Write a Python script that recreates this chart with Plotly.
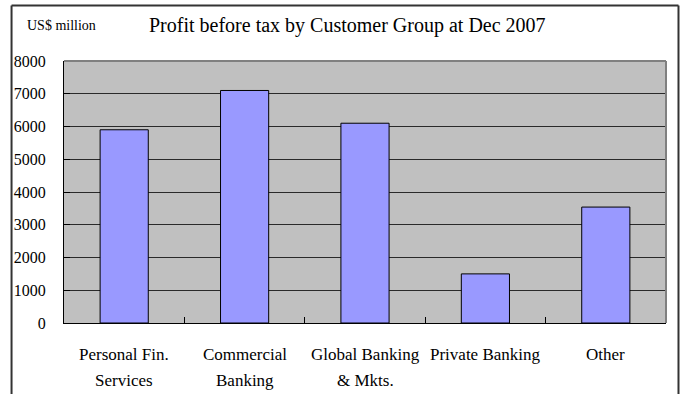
import plotly.graph_objects as go

# Profit before tax by customer group, Dec 2007 (US$ million)
categories = ["Personal Fin. Services", "Commercial Banking", "Global Banking & Mkts.",
              "Private Banking", "Other"]
label_line1 = ["Personal Fin.", "Commercial", "Global Banking", "Private Banking", "Other"]
label_line2 = ["Services", "Banking", "& Mkts.", "", ""]
profit = [5900, 7100, 6100, 1500, 3540]
y_ticks = [0, 1000, 2000, 3000, 4000, 5000, 6000, 7000, 8000]

FONT = "'Liberation Serif', 'Times New Roman', serif"

fig = go.Figure(go.Bar(
    x=categories, y=profit, width=0.4,
    marker=dict(color="#9999ff", line=dict(color="#000000", width=1)),
))

W, H = 683, 394
L, R, T, B = 64, 16.5, 61, 71
pw, ph = W - L - R, H - T - B


def px_x(p):
    return (p - L) / pw


def px_y(p):
    return (H - B - p) / ph


annotations = []
for cat, a, b in zip(categories, label_line1, label_line2):
    annotations.append(dict(x=cat, xref="x", y=px_y(354), yref="paper", text=a,
                            showarrow=False, xanchor="center", yanchor="middle",
                            font=dict(family=FONT, size=17, color="#000")))
    if b:
        annotations.append(dict(x=cat, xref="x", y=px_y(380), yref="paper", text=b,
                                showarrow=False, xanchor="center", yanchor="middle",
                                font=dict(family=FONT, size=17, color="#000")))

annotations.append(dict(x=px_x(147), xref="paper", y=px_y(25), yref="paper",
                        text="Profit before tax by Customer Group at Dec 2007",
                        showarrow=False, xanchor="left", yanchor="middle",
                        font=dict(family=FONT, size=20, color="#000")))
annotations.append(dict(x=px_x(25), xref="paper", y=px_y(25), yref="paper",
                        text="US$ million", showarrow=False, xanchor="left", yanchor="middle",
                        font=dict(family=FONT, size=14, color="#000")))

shapes = [
    # outer frame (open at the bottom)
    dict(type="line", xref="paper", yref="paper", x0=px_x(11.5), x1=px_x(11.5),
         y0=px_y(5.5), y1=px_y(400), line=dict(color="#333333", width=2)),
    dict(type="line", xref="paper", yref="paper", x0=px_x(679), x1=px_x(679),
         y0=px_y(5.5), y1=px_y(400), line=dict(color="#333333", width=2)),
    dict(type="line", xref="paper", yref="paper", x0=px_x(11.5), x1=px_x(679),
         y0=px_y(5.5), y1=px_y(5.5), line=dict(color="#333333", width=2)),
    # plot area top and right edges
    dict(type="line", xref="paper", yref="paper", x0=0, x1=1, y0=1, y1=1,
         line=dict(color="#808080", width=2)),
    dict(type="line", xref="paper", yref="paper", x0=1, x1=1, y0=0, y1=1,
         line=dict(color="#808080", width=2)),
]

fig.update_layout(
    width=W, height=H,
    margin=dict(l=L, r=R, t=T, b=B, pad=0),
    paper_bgcolor="#ffffff", plot_bgcolor="#c0c0c0",
    showlegend=False, bargap=0.6,
    font=dict(family=FONT, size=16, color="#000"),
    annotations=annotations, shapes=shapes,
)
fig.update_xaxes(
    type="category", showticklabels=False, showgrid=False,
    showline=True, linecolor="#000", linewidth=1,
    ticks="inside", tickson="boundaries", ticklen=6, tickcolor="#000", tickwidth=1,
)
fig.update_yaxes(
    range=[0, 8000], tickvals=y_ticks, showgrid=True, gridcolor="#2a2a2a", gridwidth=1,
    showline=True, linecolor="#000", linewidth=1, zeroline=False,
    ticks="inside", ticklen=6, tickcolor="#000", tickwidth=1,
    ticklabelstandoff=14, tickfont=dict(family=FONT, size=16, color="#000"),
)

fig.write_html("out.html")
